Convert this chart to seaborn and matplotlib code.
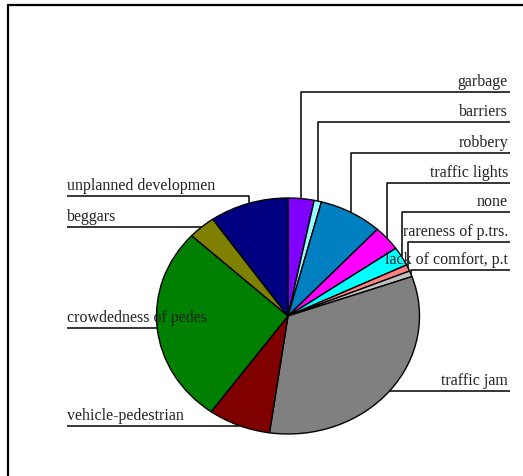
import numpy as np
import matplotlib
matplotlib.use("Agg")
import matplotlib.pyplot as plt
import seaborn as sns

sns.set_style("white")
plt.rcParams["font.family"] = ["Liberation Serif", "DejaVu Serif"]

# Share of responses per problem (percent), clockwise from 12 o'clock
categories = [
    "garbage", "barriers", "robbery", "traffic lights", "none",
    "rareness of p.trs.", "lack of comfort, p.t", "traffic jam",
    "vehicle-pedestrian", "crowdedness of pedes", "beggars",
    "unplanned developmen",
]
shares = [3.2, 0.9, 7.8, 3.4, 2.6, 0.9, 0.8, 32.7, 7.7, 27.0, 3.4, 9.7]
colors = [
    "#8000FF", "#99FFFF", "#0080C0", "#FF00FF", "#00FFFF", "#FF8080",
    "#C0C0C0", "#808080", "#800000", "#008000", "#808000", "#000080",
]

# Label placement: side and height (pixels from top) of each label's rule
label_side = ["R", "R", "R", "R", "R", "R", "R", "R", "L", "L", "L", "L"]
label_rule_y = [92, 122, 153, 183, 212, 242, 270, 391, 426, 328, 227, 196]

W, H = 523, 476
fig = plt.figure(figsize=(W / 100, H / 100), dpi=100)
fig.patch.set_facecolor("white")

# Pie drawn in its own axes, stretched into a slightly flattened ellipse
px0, px1, py0, py1 = 156.5, 419.5, 198.0, 434.0
ax_pie = fig.add_axes([px0 / W, (H - py1) / H, (px1 - px0) / W, (py1 - py0) / H])
wedges, _ = ax_pie.pie(
    shares, colors=colors, startangle=90, counterclock=False,
    wedgeprops=dict(edgecolor="black", linewidth=1.0),
)
ax_pie.set_aspect("auto")
ax_pie.set_xlim(-1, 1)
ax_pie.set_ylim(-1, 1)
ax_pie.axis("off")

# Overlay in pixel coordinates for the frame, leader lines and labels
ax = fig.add_axes([0, 0, 1, 1], zorder=5)
ax.set_xlim(0, W)
ax.set_ylim(H, 0)
ax.axis("off")
ax.patch.set_alpha(0)

fig.canvas.draw()
to_px = ax_pie.transData + ax.transData.inverted()

line_kw = dict(color="black", lw=1.1, solid_capstyle="butt")
right_x, left_x = 510, 67
for w, name, side, ry in zip(wedges, categories, label_side, label_rule_y):
    mid = np.deg2rad((w.theta1 + w.theta2) / 2)
    ex, ey = to_px.transform((np.cos(mid), np.sin(mid)))
    if side == "R":
        ax.plot([ex, ex, right_x], [ey, ry, ry], **line_kw)
        ax.text(right_x - 2, ry - 6, name, ha="right", va="baseline",
                fontsize=11.5, color="#222222")
    else:
        ax.plot([left_x, ex, ex], [ry, ry, ey], **line_kw)
        ax.text(left_x, ry - 6, name, ha="left", va="baseline",
                fontsize=11.5, color="#222222")

# Chart-area border (top and left edges)
ax.plot([7, W], [5, 5], color="black", lw=1.6, solid_capstyle="butt")
ax.plot([8, 8], [5, H], color="black", lw=1.6, solid_capstyle="butt")

fig.savefig("out.png", dpi=100, facecolor="white")
